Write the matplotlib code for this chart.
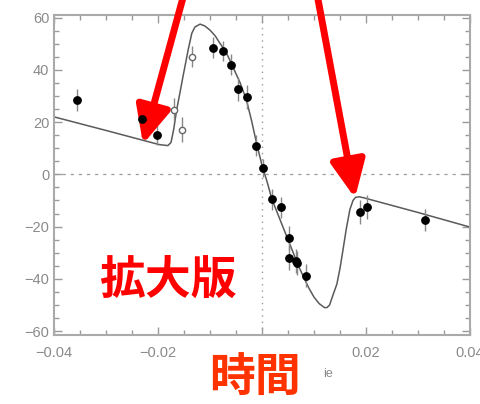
import numpy as np
import matplotlib
matplotlib.use('Agg')
import matplotlib.pyplot as plt
from matplotlib.ticker import MultipleLocator

# measured points (filled)
x_fill = [-0.0356, -0.0231, -0.0202, -0.0094, -0.0075, -0.0060, -0.0046, -0.0029,
          -0.0012, 0.0002, 0.0019, 0.0036, 0.0052, 0.0052, 0.0065, 0.0067,
          0.0084, 0.0188, 0.0201, 0.0313]
y_fill = [28.6, 21.3, 14.9, 48.4, 47.2, 41.9, 32.6, 29.7,
          11.0, 2.3, -9.5, -12.6, -24.4, -32.0, -33.1, -34.0,
          -38.8, -14.5, -12.6, -17.5]
e_fill = [4.2, 4.0, 3.5, 4.0, 4.0, 4.0, 4.5, 4.5,
          4.0, 3.5, 4.0, 4.0, 4.5, 4.5, 4.5, 4.5,
          4.5, 4.5, 4.5, 4.2]

# open points
x_open = [-0.0169, -0.0154, -0.0135]
y_open = [24.8, 17.1, 45.0]
e_open = [4.5, 4.7, 4.0]

# model curve
x_model = [-0.0400, -0.0300, -0.0198, -0.0181, -0.0175, -0.0170, -0.0164, -0.0158,
           -0.0152, -0.0142, -0.0135, -0.0129, -0.0119, -0.0110, -0.0100, -0.0090,
           -0.0081, -0.0070, -0.0062, -0.0050, -0.0042, -0.0030, -0.0020, -0.0010,
           0.0000, 0.0010, 0.0019, 0.0030, 0.0040, 0.0050, 0.0060, 0.0070,
           0.0080, 0.0090, 0.0100, 0.0110, 0.0120, 0.0125, 0.0130, 0.0136,
           0.0144, 0.0150, 0.0156, 0.0162, 0.0169, 0.0175, 0.0180, 0.0187,
           0.0196, 0.0300, 0.0400]
y_model = [22.0, 16.8, 11.4, 11.0, 12.2, 17.0, 24.8, 31.0,
           37.4, 47.6, 54.0, 56.4, 57.5, 56.8, 55.2, 53.0,
           50.2, 47.0, 43.8, 38.5, 35.0, 28.5, 20.5, 11.5,
           3.5, -3.0, -9.5, -15.0, -20.0, -25.0, -30.0, -35.0,
           -39.3, -43.5, -47.0, -49.5, -51.0, -51.0, -50.0, -46.5,
           -42.0, -36.0, -28.6, -21.0, -13.5, -10.0, -8.8, -8.6,
           -9.0, -14.6, -20.2]

xticks = [-0.04, -0.02, 0.0, 0.02, 0.04]
# the "0" label is hidden under the 時間 overlay in the reference
xticklabels = ['\u22120.04', '\u22120.02', '', '0.02', '0.04']
yticks = [-60, -40, -20, 0, 20, 40, 60]

plt.rcParams['font.family'] = ['Liberation Sans', 'DejaVu Sans']

fig = plt.figure(figsize=(4.8, 4.04), dpi=100)
ax = fig.add_axes([54/480, 1 - 335/404, 416/480, 319.5/404])

gray = '#9a9a9a'
ax.axhline(0, color=gray, lw=0.9, ls=(0, (2.5, 4)), zorder=1)
ax.axvline(0, color=gray, lw=1.0, ls=(0, (1, 3.5)), zorder=1)

ax.plot(x_model, y_model, color='#5a5a5a', lw=1.1, zorder=2)

ax.errorbar(x_fill, y_fill, yerr=e_fill, fmt='o', ms=5.3, color='black',
            ecolor='#888888', elinewidth=1.0, capsize=0, zorder=3)
ax.errorbar(x_open, y_open, yerr=e_open, fmt='o', ms=4.5, mfc='white',
            mec='#666666', mew=1.0, ecolor='#888888', elinewidth=1.0,
            capsize=0, zorder=3)

ax.set_xlim(-0.04, 0.04)
ax.set_ylim(-61.5, 60.8)
ax.set_xticks(xticks)
ax.set_xticklabels(xticklabels)
ax.set_yticks(yticks)
ax.set_yticklabels([str(v).replace('-', '\u2212') for v in yticks])
ax.xaxis.set_minor_locator(MultipleLocator(0.005))
ax.yaxis.set_minor_locator(MultipleLocator(5))
ax.tick_params(which='both', direction='in', top=True, right=True,
               color=gray, labelcolor='#8a8a8a', labelsize=10.5)
ax.tick_params(which='major', length=6, width=1)
ax.tick_params(which='minor', length=3.5, width=1)
ax.tick_params(axis='x', pad=8)
for s in ax.spines.values():
    s.set_color('#aaaaaa')
    s.set_linewidth(1.5)

# remains of the axis label
fig.text(328/480, 1 - 374/404, 'ie', color='#8a8a8a', fontsize=9,
         ha='center', va='center')

# overlays
fig.text(168/480, 1 - 281/404, '拡大版', color='#ff0000', fontsize=33,
         fontweight='bold', family=['Noto Sans CJK JP', 'DejaVu Sans'],
         ha='center', va='center')
fig.text(255/480, 1 - 379/404, '時間', color='#ff3300', fontsize=33,
         fontweight='bold', family=['Noto Sans CJK JP', 'DejaVu Sans'],
         ha='center', va='center')

arrow = dict(arrowstyle='-|>,head_length=0.75,head_width=0.35',
             mutation_scale=30, color='#ff0000', lw=5, shrinkA=0, shrinkB=0)
ax.annotate('', xy=(143, 404 - 144), xycoords='figure pixels',
            xytext=(184, 410), textcoords='figure pixels',
            arrowprops=arrow, annotation_clip=False)
ax.annotate('', xy=(355, 404 - 198), xycoords='figure pixels',
            xytext=(317, 410), textcoords='figure pixels',
            arrowprops=arrow, annotation_clip=False)

fig.savefig('out.png', dpi=100)
